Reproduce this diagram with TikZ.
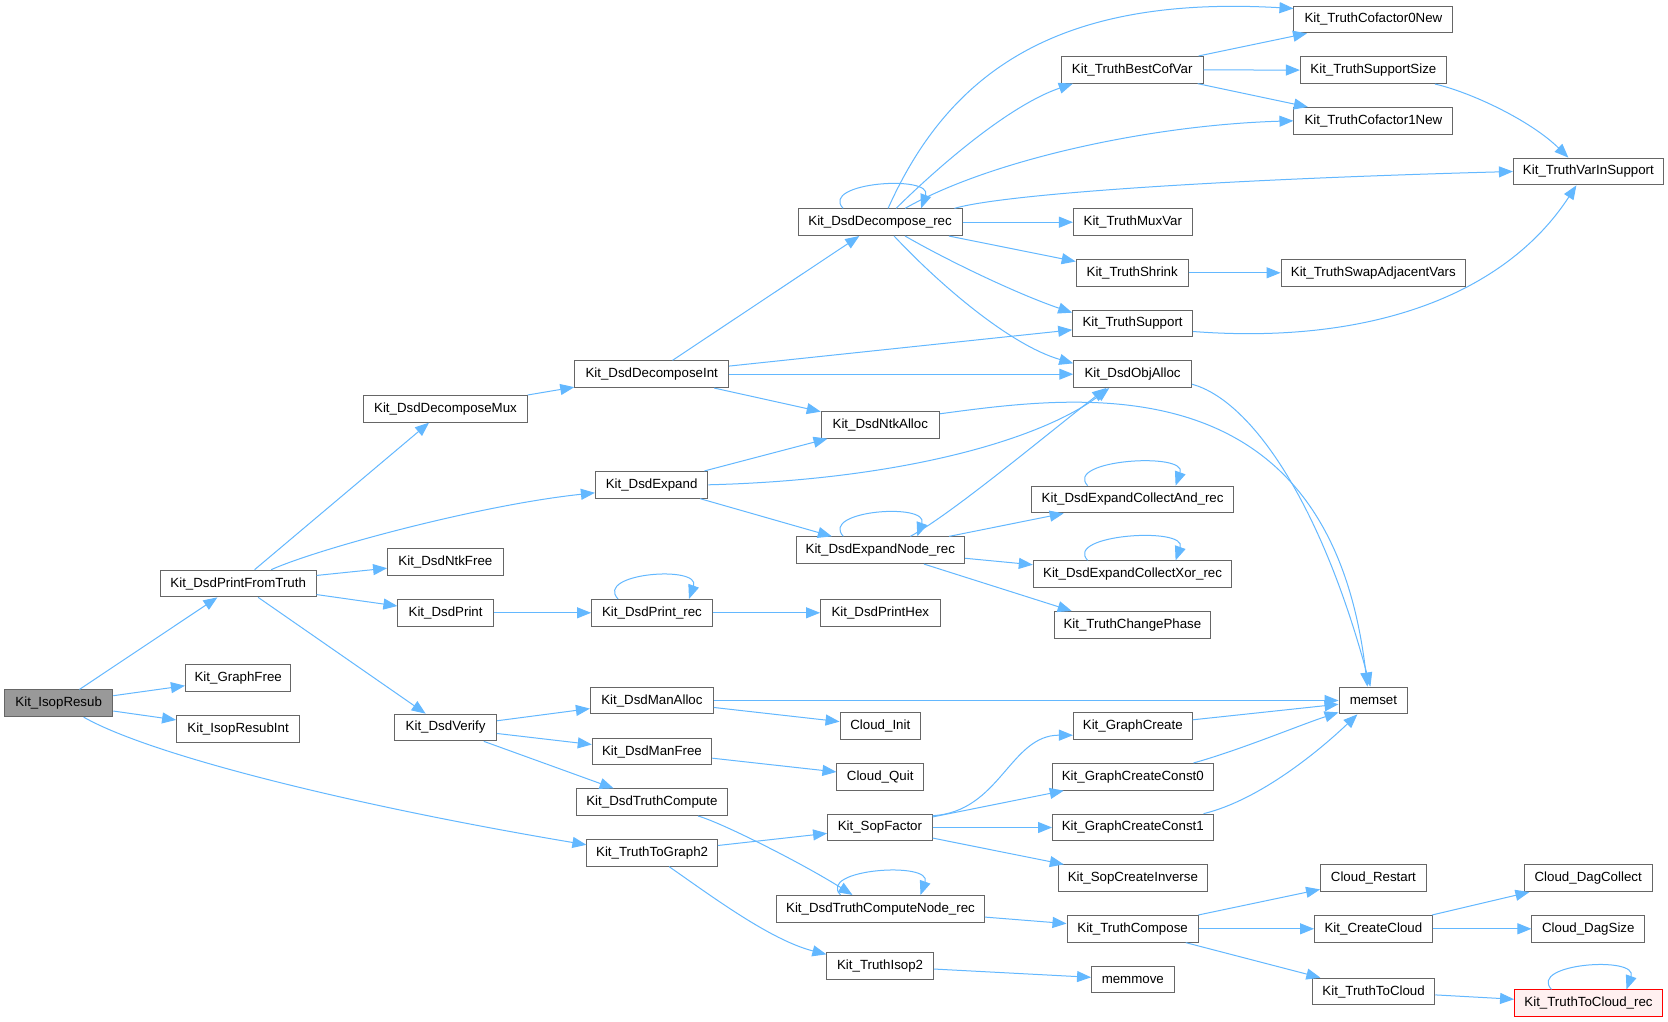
\documentclass[tikz,border=0pt]{standalone}
\usepackage{fontspec}
\setmainfont{Liberation Sans}
\usetikzlibrary{arrows.meta,calc}
\definecolor{edgec}{HTML}{63B8FF}
\definecolor{nbord}{HTML}{666666}
\definecolor{rootfill}{HTML}{999999}
\definecolor{redfill}{HTML}{FFF0F0}
\newcommand\myloop[3]{\draw[edge] ($(#1.north)+(#2,0)$) .. controls +(-24,-26) and +(12,-34) .. ($(#1.north)+(#3,0)$);}
\begin{document}
\begin{tikzpicture}[x=1pt,y=-1pt,
  box/.style={draw=nbord, line width=1pt, fill=white, minimum height=26.7pt, inner sep=0pt, font=\fontsize{13.3}{16}\selectfont, anchor=center},
  rootbox/.style={box, fill=rootfill},
  redbox/.style={box, draw=red, fill=redfill},
  edge/.style={draw=edgec, line width=1pt, -{Triangle[length=14pt,width=11pt]}}]
\fill[white] (0,0) rectangle (1668,1022);
\useasboundingbox (0,0) rectangle (1668,1022);

% nodes
\node[rootbox,minimum width=108.2] (isop) at (58.7,703.3) {Kit\_IsopResub};
\node[box,minimum width=155.7] (pft) at (238.2,583.5) {Kit\_DsdPrintFromTruth};
\node[box,minimum width=105.5] (gfree) at (238.2,678.3) {Kit\_GraphFree};
\node[box,minimum width=123] (isopint) at (238.1,728.7) {Kit\_IsopResubInt};
\node[box,minimum width=163.5] (dmux) at (445.5,408.8) {Kit\_DsdDecomposeMux};
\node[box,minimum width=115.6] (ntkfree) at (445.4,562.2) {Kit\_DsdNtkFree};
\node[box,minimum width=95.4] (dprint) at (445.6,612.8) {Kit\_DsdPrint};
\node[box,minimum width=101.8] (verify) at (445.6,727.5) {Kit\_DsdVerify};
\node[box,minimum width=153.9] (dint) at (651.7,374.2) {Kit\_DsdDecomposeInt};
\node[box,minimum width=112.4] (expand) at (651.6,484.8) {Kit\_DsdExpand};
\node[box,minimum width=120.9] (prec) at (652,612.8) {Kit\_DsdPrint\_rec};
\node[box,minimum width=123] (manalloc) at (651.9,700.5) {Kit\_DsdManAlloc};
\node[box,minimum width=119.5] (manfree) at (652,751.5) {Kit\_DsdManFree};
\node[box,minimum width=151.4] (tcomp) at (651.9,802.2) {Kit\_DsdTruthCompute};
\node[box,minimum width=130.4] (t2g) at (652.1,852.8) {Kit\_TruthToGraph2};
\node[box,minimum width=163.8] (drec) at (880.1,222.2) {Kit\_DsdDecompose\_rec};
\node[box,minimum width=118.1] (ntkalloc) at (880.3,424.8) {Kit\_DsdNtkAlloc};
\node[box,minimum width=168.5] (enrec) at (880.3,550.2) {Kit\_DsdExpandNode\_rec};
\node[box,minimum width=119.5] (phex) at (880.3,612.8) {Kit\_DsdPrintHex};
\node[box,minimum width=80.5] (cinit) at (880.3,726.2) {Cloud\_Init};
\node[box,minimum width=86.5] (cquit) at (880.2,776.8) {Cloud\_Quit};
\node[box,minimum width=104.6] (sop) at (879.9,827.5) {Kit\_SopFactor};
\node[box,minimum width=207.8] (tcnrec) at (880.5,908.8) {Kit\_DsdTruthComputeNode\_rec};
\node[box,minimum width=106.4] (isop2) at (880.1,966.2) {Kit\_TruthIsop2};
\node[box,minimum width=141.8] (bestcof) at (1132.2,69.8) {Kit\_TruthBestCofVar};
\node[box,minimum width=118.7] (muxvar) at (1132.8,222.2) {Kit\_TruthMuxVar};
\node[box,minimum width=112] (shrink) at (1132.2,272.8) {Kit\_TruthShrink};
\node[box,minimum width=119.8] (tsupp) at (1132.6,323.5) {Kit\_TruthSupport};
\node[box,minimum width=117.7] (objalloc) at (1132.6,374.2) {Kit\_DsdObjAlloc};
\node[box,minimum width=202.1] (cand) at (1132.6,499.5) {Kit\_DsdExpandCollectAnd\_rec};
\node[box,minimum width=198.6] (cxor) at (1132.6,574.2) {Kit\_DsdExpandCollectXor\_rec};
\node[box,minimum width=156.4] (phase) at (1132.4,624.8) {Kit\_TruthChangePhase};
\node[box,minimum width=118.7] (gcreate) at (1132.8,726.2) {Kit\_GraphCreate};
\node[box,minimum width=160.5] (gc0) at (1132.8,776.8) {Kit\_GraphCreateConst0};
\node[box,minimum width=160.5] (gc1) at (1132.8,827.5) {Kit\_GraphCreateConst1};
\node[box,minimum width=149.6] (sinv) at (1132.9,878.2) {Kit\_SopCreateInverse};
\node[box,minimum width=131.2] (tcompose) at (1132.6,928.8) {Kit\_TruthCompose};
\node[box,minimum width=82.5] (memmove) at (1132.8,979.5) {memmove};
\node[box,minimum width=158.9] (cof0) at (1373.4,19.5) {Kit\_TruthCofactor0New};
\node[box,minimum width=146.1] (ssize) at (1373.4,70.2) {Kit\_TruthSupportSize};
\node[box,minimum width=158.9] (cof1) at (1373.4,120.8) {Kit\_TruthCofactor1New};
\node[box,minimum width=184.4] (swap) at (1373.3,272.8) {Kit\_TruthSwapAdjacentVars};
\node[box,minimum width=68.7] (memset) at (1373.4,700.5) {memset};
\node[box,minimum width=105.7] (crestart) at (1373.4,878.2) {Cloud\_Restart};
\node[box,minimum width=117.7] (ccloud) at (1373.4,928.8) {Kit\_CreateCloud};
\node[box,minimum width=122.3] (t2cloud) at (1373.6,991.5) {Kit\_TruthToCloud};
\node[box,minimum width=150] (varin) at (1588.4,171.5) {Kit\_TruthVarInSupport};
\node[box,minimum width=127.6] (dagcol) at (1588.2,878.2) {Cloud\_DagCollect};
\node[box,minimum width=112.7] (dagsize) at (1588.3,928.8) {Cloud\_DagSize};
\node[redbox,minimum width=147.9] (t2crec) at (1588.5,1003.3) {Kit\_TruthToCloud\_rec};

% edges
\draw[edge] (isop) -- (pft);
\draw[edge] (isop) -- (gfree);
\draw[edge] (isop) -- (isopint);
\draw[edge] ($(isop.south)+(25,0)$) .. controls (150,755) and (350,805) .. ($(t2g.west)+(0,-8)$);
\draw[edge] (pft) -- (dmux);
\draw[edge] ($(pft.north)+(33,0)$) .. controls (320,548) and (480,505) .. ($(expand.west)+(0,8)$);
\draw[edge] (pft) -- (ntkfree);
\draw[edge] (pft) -- (dprint);
\draw[edge] (pft) -- (verify);
\draw[edge] (dmux) -- (dint);
\draw[edge] (dint) -- (drec);
\draw[edge] (dint) -- (tsupp);
\draw[edge] (dint) -- (objalloc);
\draw[edge] (dint) -- (ntkalloc);
\draw[edge] (expand) -- (ntkalloc);
\draw[edge] (expand.east) .. controls (900,480) and (1040,440) .. ($(objalloc.south west)+(36,0)$);
\draw[edge] (expand) -- (enrec);

\myloop{drec}{-37}{41}
\draw[edge] ($(drec.north)+(8,0)$) .. controls (950,70) and (1060,-5) .. ($(cof0.west)+(0,-11)$);
\draw[edge] ($(drec.north)+(16,0)$) .. controls (940,165) and (1010,105) .. ($(bestcof.south west)+(12,0)$);
\draw[edge] ($(drec.north)+(25,0)$) .. controls (990,160) and (1150,125) .. (cof1.west);
\draw[edge] ($(drec.north east)+(-8,0)$) .. controls (1000,195) and (1200,180) .. (varin.west);
\draw[edge] (drec) -- (muxvar);
\draw[edge] (drec) -- (shrink);
\draw[edge] ($(drec.south)+(25,0)$) .. controls (950,262) and (1020,295) .. ($(tsupp.north west)+(0,3)$);
\draw[edge] ($(drec.south)+(14,0)$) .. controls (940,285) and (1010,345) .. ($(objalloc.north west)+(0,3)$);

\draw[edge] (bestcof) -- (cof0);
\draw[edge] (bestcof) -- (ssize);
\draw[edge] (bestcof) -- (cof1);
\draw[edge] ($(ssize.south east)+(-12,0)$) .. controls (1470,92) and (1530,120) .. ($(varin.north)+(-20,0)$);
\draw[edge] (shrink) -- (swap);
\draw[edge] ($(tsupp.east)+(0,8)$) .. controls (1370,345) and (1505,295) .. ($(varin.south)+(-12,0)$);
\draw[edge] ($(objalloc.east)+(0,10)$) .. controls (1250,400) and (1320,500) .. ($(memset.north)+(-3,0)$);
\draw[edge] ($(ntkalloc.east)+(0,-11)$) .. controls (1080,395) and (1330,360) .. ($(memset.north)+(-6,0)$);

\myloop{enrec}{-37}{37}
\draw[edge] ($(enrec.north)+(30,0)$) .. controls (950,515) and (1040,440) .. ($(objalloc.south west)+(33,0)$);
\draw[edge] (enrec) -- (cand);
\draw[edge] (enrec) -- (cxor);
\draw[edge] (enrec) -- ($(phase.north west)+(18,0)$);
\myloop{cand}{-45}{43}
\myloop{cxor}{-45}{43}

\draw[edge] (dprint) -- (prec);
\myloop{prec}{-34}{37}
\draw[edge] (prec) -- (phex);

\draw[edge] (verify) -- (manalloc);
\draw[edge] (verify) -- (manfree);
\draw[edge] (verify) -- (tcomp);
\draw[edge] (manalloc) -- (memset);
\draw[edge] (manalloc) -- (cinit);
\draw[edge] (manfree) -- (cquit);
\draw[edge] ($(tcomp.south east)+(-30,0)$) .. controls (720,822) and (800,862) .. ($(tcnrec.north)+(-28,0)$);
\myloop{tcnrec}{-40}{40}
\draw[edge] (tcnrec) -- (tcompose);
\draw[edge] (t2g) -- (sop);
\draw[edge] ($(t2g.south)+(17,0)$) .. controls (710,895) and (770,940) .. ($(isop2.north west)+(0,2)$);
\draw[edge] (isop2) -- (memmove);

\draw[edge] ($(sop.north east)+(0,2)$) .. controls (1000,812) and (1010,735) .. ($(gcreate.west)+(0,9)$);
\draw[edge] (sop) -- (gc0);
\draw[edge] (sop) -- (gc1);
\draw[edge] (sop) -- (sinv);
\draw[edge] (gcreate) -- (memset);
\draw[edge] ($(gc0.north east)+(-20,0)$) .. controls (1240,750) and (1300,725) .. ($(memset.south west)+(0,-2)$);
\draw[edge] ($(gc1.north east)+(-10,0)$) .. controls (1260,800) and (1320,750) .. ($(memset.south)+(-16,0)$);

\draw[edge] (tcompose) -- (crestart);
\draw[edge] (tcompose) -- (ccloud);
\draw[edge] (tcompose) -- (t2cloud);
\draw[edge] (ccloud) -- (dagcol);
\draw[edge] (ccloud) -- (dagsize);
\draw[edge] (t2cloud) -- (t2crec);
\myloop{t2crec}{-37}{38}
\end{tikzpicture}
\end{document}
